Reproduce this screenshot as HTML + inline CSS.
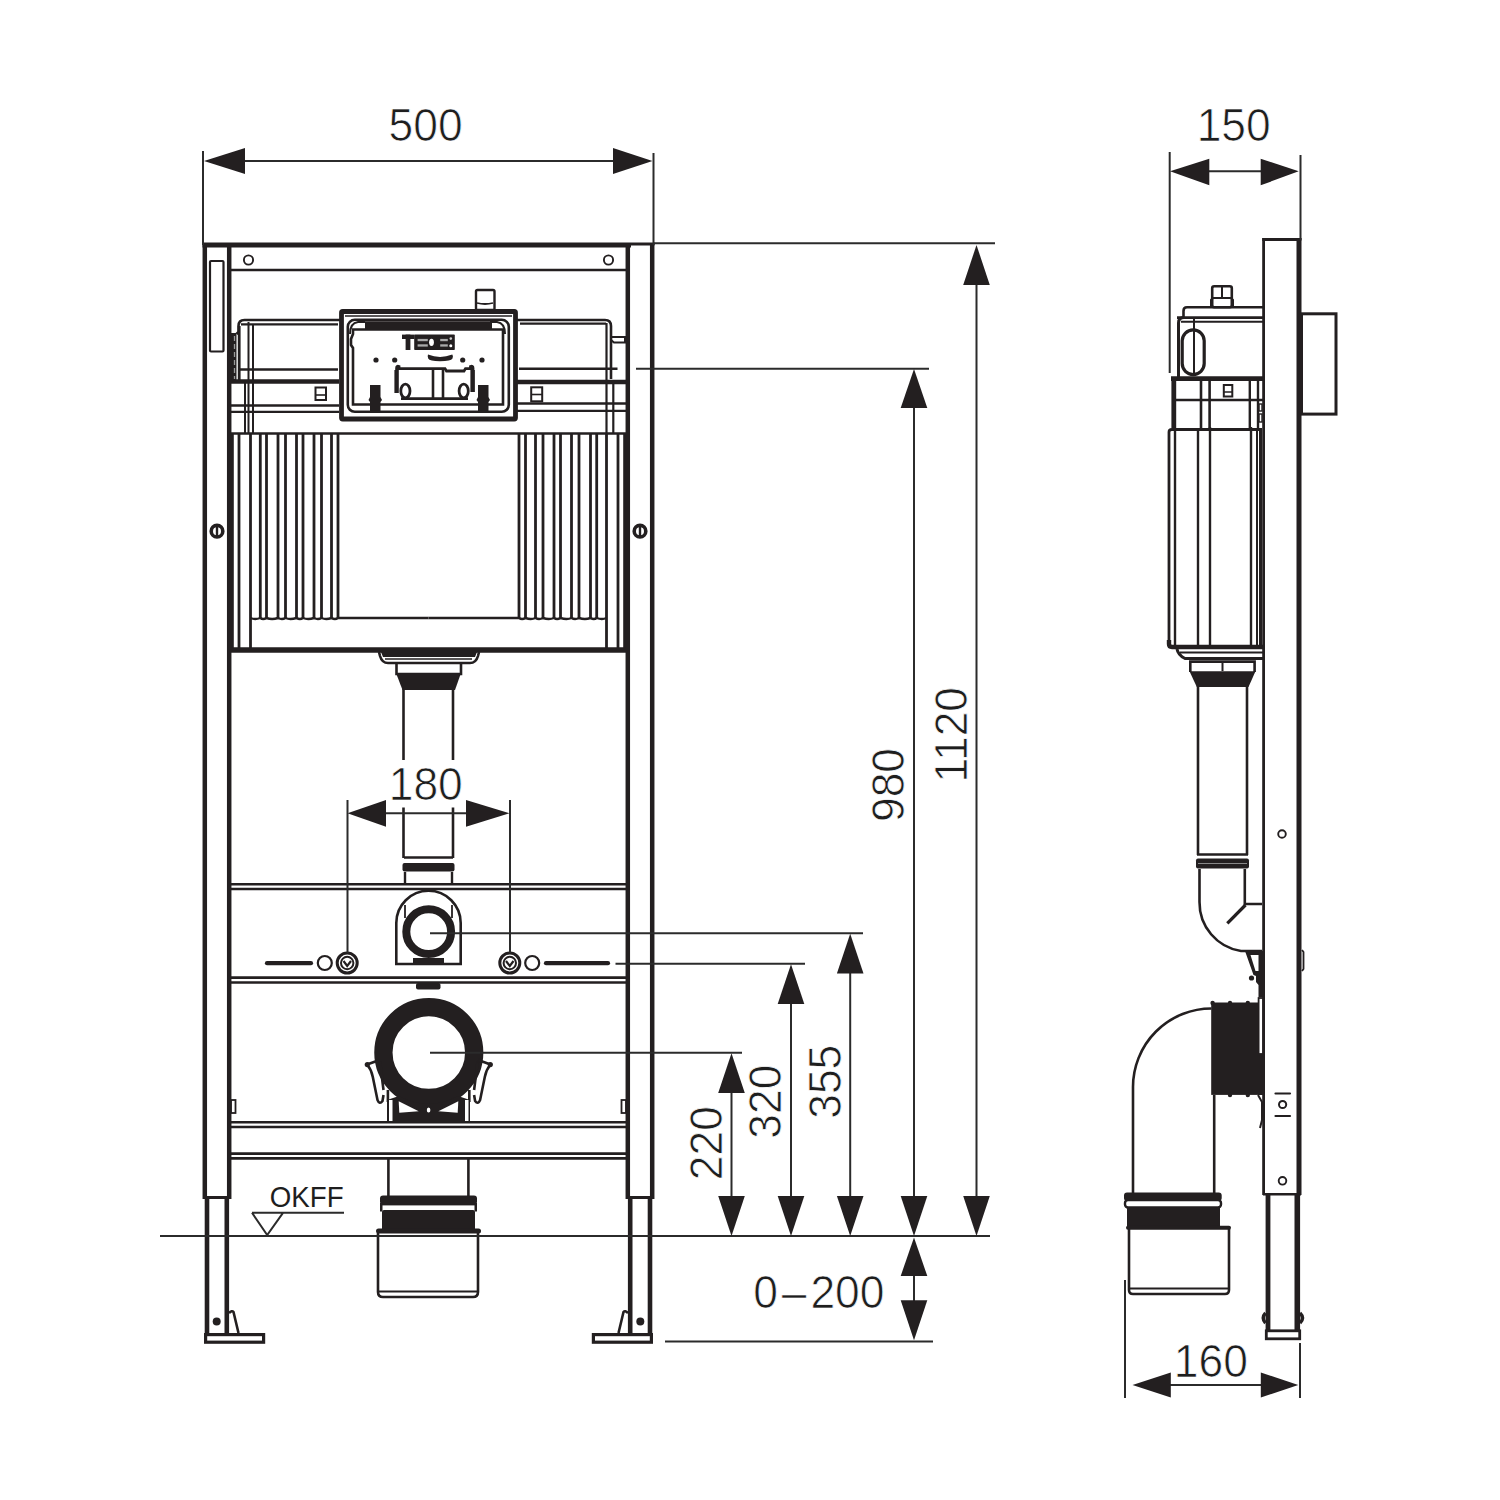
<!DOCTYPE html>
<html><head><meta charset="utf-8"><style>
html,body{margin:0;padding:0;background:#fff;width:1500px;height:1500px;overflow:hidden}
svg{display:block}
text{font-family:"Liberation Sans",sans-serif;fill:#1e1e1e}
.dt{stroke:#fff;stroke-width:0.75px;paint-order:fill stroke}
</style></head><body>
<svg width="1500" height="1500" viewBox="0 0 1500 1500">
<rect width="1500" height="1500" fill="#fff"/>
<defs>
<!-- left half of frame, mirrored around x=428.5 -->
<g id="halfL" fill="none" stroke="#231f20">
  <!-- outer post -->
  <line x1="204.8" y1="243" x2="204.8" y2="1199" stroke-width="4.5"/>
  <!-- inner post -->
  <line x1="229.2" y1="245" x2="229.2" y2="1199" stroke-width="4.5"/>
  <line x1="203" y1="1197.5" x2="231" y2="1197.5" stroke-width="3"/>
  <!-- top bar -->
  <circle cx="248.5" cy="260" r="4.6" stroke-width="1.9"/>
  <!-- bolts on post -->
  <circle cx="217" cy="531.2" r="5.8" stroke-width="3.6"/>
  <line x1="217" y1="526" x2="217" y2="536" stroke-width="2.4"/>
  <!-- legs -->
  <line x1="207" y1="1198" x2="207" y2="1334" stroke-width="4.6"/>
  <line x1="226.8" y1="1198" x2="226.8" y2="1334" stroke-width="4.6"/>
  <rect x="205.6" y="1334.6" width="58" height="7.6" stroke-width="3.2"/>
  <circle cx="216.7" cy="1321.5" r="4" fill="#231f20" stroke="none"/>
  <path d="M229 1313 Q232 1310 233.5 1312 L238.5 1333" stroke-width="2.6"/>
  <!-- ribs -->
  <line x1="232.4" y1="434" x2="232.4" y2="649" stroke-width="2.8"/>
  <line x1="239" y1="434" x2="239" y2="649" stroke-width="2.8"/>
  <line x1="250.5" y1="434" x2="250.5" y2="649" stroke-width="2.8"/>
  <line x1="260.3" y1="434" x2="260.3" y2="618" stroke-width="2.8"/>
  <line x1="266.5" y1="434" x2="266.5" y2="618" stroke-width="2.8"/>
  <line x1="278" y1="434" x2="278" y2="618" stroke-width="2.8"/>
  <line x1="285.5" y1="434" x2="285.5" y2="618" stroke-width="2.8"/>
  <line x1="296.5" y1="434" x2="296.5" y2="618" stroke-width="2.8"/>
  <line x1="303" y1="434" x2="303" y2="618" stroke-width="2.8"/>
  <line x1="314" y1="434" x2="314" y2="618" stroke-width="2.8"/>
  <line x1="321.5" y1="434" x2="321.5" y2="618" stroke-width="2.8"/>
  <line x1="331.5" y1="434" x2="331.5" y2="618" stroke-width="2.8"/>
  <line x1="338" y1="434" x2="338" y2="618" stroke-width="2.8"/>
  <path d="M250.5 618 Q255 620 260.3 618 Q263 620 266.5 618 Q272 620 278 618 Q282 620 285.5 618 Q290 620 296.5 618 Q300 620 303 618 Q308 620 314 618 Q318 620 321.5 618 Q326 620 331.5 618 Q335 620 338 618 L428.5 618" stroke-width="2.4"/>
  <!-- bars -->
  <!-- small squares on inner post near bars -->
  <rect x="231" y="1100" width="4.5" height="13" stroke-width="1.8"/>
  <!-- slot + circles row -->
  <circle cx="324.8" cy="963" r="7" stroke-width="2.2"/>
  <circle cx="347.2" cy="963" r="10" stroke-width="3"/>
  <circle cx="347.2" cy="963" r="6.2" stroke-width="2"/>
  <path d="M343.5 961 L347.2 966 L351 961" stroke-width="2.2"/>
</g>
</defs>
<use href="#halfL"/>
<use href="#halfL" transform="matrix(-1 0 0 1 857 0)"/>

<rect x="210" y="261" width="13.5" height="90.5" fill="none" stroke="#231f20" stroke-width="2.2" rx="1"/>
<g fill="none" stroke="#231f20">
  <!-- cistern left block -->
  <path d="M231 333 L236.5 333 L236.5 381 L231 381" fill="#231f20" stroke="none"/>
  <line x1="234.5" y1="336" x2="234.5" y2="379" stroke="#999" stroke-width="1.3" stroke-dasharray="5 3"/>

  <path d="M236.5 334 L238.5 332 L238.5 326 Q238.5 320 244.5 320 L341 320" stroke-width="2.6"/>
  <line x1="241" y1="324.3" x2="338" y2="324.3" stroke-width="2.2"/>
  <line x1="239.2" y1="326" x2="239.2" y2="382" stroke-width="2.8"/>
  <line x1="248.5" y1="322" x2="248.5" y2="433" stroke-width="2"/>
  <line x1="253" y1="324" x2="253" y2="433" stroke-width="2"/>
  <line x1="245" y1="382" x2="245" y2="433" stroke-width="2"/>
  <line x1="240" y1="369.5" x2="338" y2="369.5" stroke-width="2.6"/>
  <line x1="231" y1="381.5" x2="339" y2="381.5" stroke-width="4.6"/>
  <rect x="315.5" y="387.5" width="10.5" height="12.5" stroke-width="2"/>
  <line x1="316" y1="395" x2="326" y2="395" stroke-width="1.6"/>
  <line x1="231" y1="405.5" x2="339" y2="405.5" stroke-width="2.6"/>
  <line x1="231" y1="411.8" x2="339" y2="411.8" stroke-width="2.2"/>
</g>
<g fill="none" stroke="#231f20">
  <path d="M516 320 L605 320 Q611 320 611 326 L611 379" stroke-width="2.6"/>
  <line x1="520" y1="323.6" x2="606" y2="323.6" stroke-width="2.2"/>
  <line x1="606.5" y1="323" x2="606.5" y2="433" stroke-width="2.2"/>
  <path d="M611 337 L625 337 L625 342.5 L614 342.5 L611 340" stroke-width="2"/>
  <line x1="519" y1="368.7" x2="617.5" y2="368.7" stroke-width="2.6"/>
  <line x1="517" y1="382" x2="627" y2="382" stroke-width="4.6"/>
  <rect x="531.2" y="387.3" width="11" height="14" stroke-width="2"/>
  <line x1="531.5" y1="394.5" x2="542" y2="394.5" stroke-width="1.6"/>
  <line x1="613.3" y1="382" x2="613.3" y2="433" stroke-width="2.2"/>
  <line x1="517" y1="403.5" x2="627" y2="403.5" stroke-width="2.6"/>
  <line x1="517" y1="410.8" x2="627" y2="410.8" stroke-width="2.2"/>
</g>
<g fill="none" stroke="#231f20">
  <line x1="231" y1="270" x2="626" y2="270" stroke-width="2.6"/>
  <line x1="231" y1="433.5" x2="626" y2="433.5" stroke-width="2.6"/>
  <line x1="231" y1="650" x2="626" y2="650" stroke-width="5.5"/>
  <line x1="231" y1="884.3" x2="626" y2="884.3" stroke-width="2.6"/>
  <line x1="231" y1="889" x2="626" y2="889" stroke-width="2.6"/>
  <line x1="231" y1="977.6" x2="626" y2="977.6" stroke-width="2.6"/>
  <line x1="231" y1="982.5" x2="626" y2="982.5" stroke-width="2.6"/>
  <line x1="231" y1="1122.2" x2="626" y2="1122.2" stroke-width="2.6"/>
  <line x1="231" y1="1127" x2="626" y2="1127" stroke-width="2.6"/>
  <line x1="231" y1="1153.6" x2="626" y2="1153.6" stroke-width="2.6"/>
  <line x1="231" y1="1158.4" x2="626" y2="1158.4" stroke-width="2.6"/>
</g>
<g stroke="#231f20" stroke-width="4.2" stroke-linecap="round">
  <line x1="267" y1="963.2" x2="311" y2="963.2"/>
  <line x1="546" y1="963.2" x2="608" y2="963.2"/>
</g>
<!-- top frame line -->
<line x1="202.5" y1="245" x2="631" y2="245" stroke="#231f20" stroke-width="5"/>
<line x1="631" y1="244" x2="654.5" y2="244" stroke="#231f20" stroke-width="3"/>


<!-- ===== center parts left view ===== -->
<g fill="none" stroke="#231f20">
  <!-- knob -->
  <rect x="476" y="290" width="18.5" height="20" stroke-width="2.4" rx="1.5"/>
  <path d="M477 303 Q485 305 493 303" stroke-width="1.8"/>
  <!-- panel -->
  <rect x="341.5" y="311.5" width="174" height="107.5" rx="1.2" stroke-width="4.8"/>
  <line x1="345" y1="316" x2="512" y2="316" stroke-width="1.6"/>
  <rect x="347.8" y="319.8" width="161" height="92" rx="7" stroke-width="2.6"/>
  <path d="M353 334 L353 329.5 L503 329.5 L503 404.5 L353 404.5 L353 348 L351 345 L351 339 Z" stroke-width="2.6"/>
  <path d="M350 334 Q350 323 358 322 L365 322" stroke-width="2"/>
  <path d="M505 334 Q505 323 497 322 L490 322" stroke-width="2"/>
  <!-- flush mechanism -->
  <path d="M396.6 393 L396.6 368 Q396.6 365.5 399 366.5 L399 368.6 L445 368.6 L446.5 371 L464 371 L465.5 368.6 L470.5 368.6 L470.5 366.5 Q473 365.5 473 368 L473 392" stroke-width="2.8"/>
  <line x1="396.6" y1="370" x2="396.6" y2="393" stroke-width="4.4"/>
  <line x1="472.6" y1="370" x2="472.6" y2="392" stroke-width="4.4"/>
  <line x1="401" y1="398.6" x2="468" y2="398.6" stroke-width="2.8"/>
  <line x1="433" y1="369" x2="433" y2="398" stroke-width="2.6"/>
  <line x1="443" y1="369" x2="443" y2="398" stroke-width="2.6"/>
  <ellipse cx="405.4" cy="391" rx="4.6" ry="6.9" stroke-width="2.8"/>
  <ellipse cx="463.7" cy="391" rx="4.6" ry="6.9" stroke-width="2.8"/>
  <path d="M428 354.6 Q440 359.5 452.3 354.6 Q453.5 356 452.5 358.5 Q451 361.3 440 361.3 Q429.5 361.3 428.2 358.5 Q427.3 356 428 354.6 Z" fill="#231f20" stroke="none"/>
</g>
<g fill="#231f20">
  <rect x="365" y="321.2" width="127" height="7.8"/>
  <circle cx="376" cy="360" r="2.6"/>
  <circle cx="394.7" cy="360" r="2.6"/>
  <circle cx="462.7" cy="360" r="2.6"/>
  <circle cx="482" cy="360" r="2.6"/>
  <path d="M370 385 L380.5 385 L380.5 397 L382 400 L380.5 402 L380.5 412 L370 412 L370 402 L368.5 400 L370 397 Z"/>
  <path d="M478 385 L488.5 385 L488.5 397 L490 400 L488.5 402 L488.5 412 L478 412 L478 402 L476.5 400 L478 397 Z"/>
  <rect x="402" y="334.6" width="12.4" height="4.4"/>
  <rect x="405.6" y="334.6" width="4.8" height="15.4"/>
  <rect x="414.2" y="334.6" width="40.6" height="15.4" rx="0.8"/>
  <rect x="417.6" y="338.9" width="10.2" height="2.3" fill="#aaa"/>
  <rect x="417.6" y="344.3" width="10.2" height="2.3" fill="#aaa"/>
  <rect x="440.2" y="338.9" width="7.6" height="2.3" fill="#aaa"/>
  <rect x="440.2" y="344.3" width="7.6" height="2.3" fill="#aaa"/>
  <ellipse cx="431.5" cy="342.3" rx="2.4" ry="3.6" fill="#fff"/>
  <circle cx="450.8" cy="338.6" r="1.3" fill="#ccc"/>
  <circle cx="450.8" cy="345.8" r="1.5" fill="#fff"/>
</g>
<g fill="none" stroke="#231f20">
  <!-- flush pipe top -->
  <path d="M379 652 L380 656 Q382 663 388 663 L470 663 Q476 663 478 656 L479 652" stroke-width="2.6"/>
  <line x1="385" y1="659" x2="472" y2="659" stroke-width="1.6"/>
  <path d="M396.5 664 L396.5 674 L461 674 L461 664" stroke-width="2.6"/>
</g>
<g fill="#231f20">
  <path d="M396 673 L461 673 L455 690 L402.5 690 Z"/>
  <path d="M381 652 L477 652 L475 657 L383 657 Z"/>
</g>
<g fill="none" stroke="#231f20">
  <line x1="403.5" y1="689" x2="403.5" y2="760" stroke-width="2.6"/>
  <line x1="453" y1="689" x2="453" y2="760" stroke-width="2.6"/>
  <line x1="403.5" y1="807.5" x2="403.5" y2="858" stroke-width="2.6"/>
  <line x1="453" y1="807.5" x2="453" y2="858" stroke-width="2.6"/>
  <line x1="404" y1="857.5" x2="453" y2="857.5" stroke-width="2.6"/>
  <line x1="405" y1="872" x2="405" y2="884" stroke-width="2.4"/>
  <line x1="452" y1="872" x2="452" y2="884" stroke-width="2.4"/>
</g>
<g fill="#231f20">
  <rect x="402.5" y="863" width="52" height="8.5" rx="2"/>
</g>
<!-- 180 dim -->
<g stroke="#2b2b2b" stroke-width="2" fill="none">
  <line x1="347.5" y1="800" x2="347.5" y2="953"/>
  <line x1="510" y1="800" x2="510" y2="953"/>
  <line x1="380" y1="813.3" x2="470" y2="813.3"/>
</g>
<g fill="#231f20">
  <path d="M347.5 813.3 L386 800 L386 826.7 Z"/>
  <path d="M509.5 813.3 L466 800 L466 826.7 Z"/>
  <text class="dt" transform="translate(425.75 800.3) scale(0.965 1)" font-size="46" text-anchor="middle">180</text>
</g>
<!-- upper pipe connection -->
<g fill="none" stroke="#231f20">
  <path d="M396.3 964 L396.3 923 A32.2 32.2 0 0 1 460.7 923 L460.7 964 Z" stroke-width="2.6"/>
  <circle cx="428.7" cy="931.7" r="22.4" stroke-width="8"/>
  <line x1="405" y1="905" x2="405" y2="918" stroke-width="1.8"/>
  <line x1="452" y1="905" x2="452" y2="918" stroke-width="1.8"/>
</g>
<g fill="#231f20">
  <rect x="413" y="958" width="31" height="6"/>
  <rect x="416" y="983" width="24.5" height="6.5" rx="2"/>
</g>
<!-- big ring -->
<g fill="none" stroke="#231f20">
  <circle cx="428.8" cy="1052.6" r="45.4" stroke-width="18.3"/>
  <g id="clawL">
  <path d="M367 1064.5 L379.5 1060 M367.5 1065 Q371.5 1070 372.8 1077 L377.5 1100 Q379.5 1105 382.5 1101 L383.5 1095 M380 1062 L383.5 1090" stroke-width="2.6"/>
  <circle cx="367.3" cy="1064.6" r="2.6" fill="#231f20" stroke="none"/>
  </g>
  <use href="#clawL" transform="matrix(-1 0 0 1 857.6 0)"/>
</g>
<g fill="#231f20">
  <path d="M387 1100 L399 1096 Q428 1112 458 1096 L470 1100 L470 1122 L387 1122 Z"/>
  <rect x="386.6" y="1090" width="2.6" height="12"/>
  <rect x="468" y="1090" width="2.6" height="12"/>
</g>
<g fill="#fff">
  <path d="M398.7 1101.3 L418.7 1111.3 L399.3 1112.7 Z"/>
  <path d="M458.3 1101.3 L438.3 1111.3 L457.7 1112.7 Z"/>
  <rect x="389" y="1100" width="3.5" height="21"/>
  <rect x="465" y="1100" width="3.5" height="21"/>
  <ellipse cx="428.6" cy="1110" rx="1.8" ry="2.6"/>
</g>
<!-- drain -->
<g fill="none" stroke="#231f20">
  <line x1="388.4" y1="1158" x2="388.4" y2="1197" stroke-width="2.6"/>
  <line x1="468.4" y1="1158" x2="468.4" y2="1197" stroke-width="2.6"/>
  <path d="M378 1233 L378 1292 Q378 1297 383 1297 L473 1297 Q478 1297 478 1292 L478 1233" stroke-width="2.6"/>
  <line x1="379" y1="1291.5" x2="477" y2="1291.5" stroke-width="2.2"/>
</g>
<g fill="#231f20">
  <rect x="380" y="1195.5" width="97" height="9" rx="3"/>
  <rect x="380" y="1203" width="97" height="2.4"/>
  <rect x="382" y="1210" width="93" height="22" rx="2"/>
  <rect x="376" y="1228.5" width="105" height="5" rx="2.5"/>
  <rect x="380" y="1203.5" width="2.5" height="8"/>
  <rect x="474.5" y="1203.5" width="2.5" height="8"/>
</g>
<!-- OKFF -->
<g>
  <text x="269.8" y="1207" font-size="29.6" textLength="73.8" lengthAdjust="spacingAndGlyphs">OKFF</text>
  <path d="M252 1212.8 L344 1212.8 M252 1212.8 L267.2 1235 L283 1212.8" fill="none" stroke="#2b2b2b" stroke-width="2"/>
</g>
<!-- ===== dimensions left view ===== -->
<g stroke="#2b2b2b" stroke-width="2" fill="none">
  <line x1="203" y1="151" x2="203" y2="245"/>
  <line x1="653.5" y1="153" x2="653.5" y2="245"/>
  <line x1="240" y1="161" x2="618" y2="161"/>
  <!-- top ext line to right -->
  <line x1="654" y1="243.3" x2="995" y2="243.3"/>
  <line x1="636" y1="368.7" x2="929" y2="368.7"/>
  <!-- 1120 -->
  <line x1="976.5" y1="270" x2="976.5" y2="1210"/>
  <!-- 980 -->
  <line x1="914" y1="395" x2="914" y2="1210"/>
  <!-- 355 -->
  <line x1="430" y1="933.3" x2="863" y2="933.3"/>
  <line x1="850.2" y1="960" x2="850.2" y2="1210"/>
  <!-- 320 -->
  <line x1="615.5" y1="963.8" x2="805" y2="963.8"/>
  <line x1="791" y1="990" x2="791" y2="1210"/>
  <!-- 220 -->
  <line x1="430" y1="1052.8" x2="742" y2="1052.8"/>
  <line x1="731.5" y1="1080" x2="731.5" y2="1210"/>
  <!-- floor -->
  <line x1="160" y1="1236" x2="990" y2="1236"/>
  <!-- 0-200 -->
  <line x1="914" y1="1260" x2="914" y2="1320"/>
  <line x1="665" y1="1341.5" x2="933" y2="1341.5"/>
</g>
<g fill="#231f20" stroke="none">
  <!-- 500 arrows -->
  <path d="M204 161 L245 148 L245 174 Z"/>
  <path d="M652.5 161 L613 148 L613 174 Z"/>
  <!-- 1120 arrows -->
  <path d="M976.5 245 L963.2 285 L989.8 285 Z"/>
  <path d="M976.5 1236 L963.2 1196 L989.8 1196 Z"/>
  <!-- 980 -->
  <path d="M914 369 L900.7 408 L927.3 408 Z"/>
  <path d="M914 1236 L900.7 1196 L927.3 1196 Z"/>
  <!-- 355 -->
  <path d="M850.2 933.8 L836.9 973.6 L863.5 973.6 Z"/>
  <path d="M850.2 1236 L836.9 1196 L863.5 1196 Z"/>
  <!-- 320 -->
  <path d="M791 964.2 L777.7 1004 L804.3 1004 Z"/>
  <path d="M791 1236 L777.7 1196 L804.3 1196 Z"/>
  <!-- 220 -->
  <path d="M731.5 1053.3 L718.2 1093 L744.8 1093 Z"/>
  <path d="M731.5 1236 L718.2 1196 L744.8 1196 Z"/>
  <!-- 0-200 -->
  <path d="M914 1237.4 L900.7 1276 L927.3 1276 Z"/>
  <path d="M914 1340.2 L900.7 1300.3 L927.3 1300.3 Z"/>
</g>
<g font-size="46" class="dt" text-anchor="middle">
  <text transform="translate(425.6 140.6) scale(0.965 1)">500</text>
  <text transform="translate(904.3 785) rotate(-90) scale(0.965 1)">980</text>
  <text transform="translate(967 734.7) rotate(-90) scale(0.965 1)">1120</text>
  <text transform="translate(721.6 1143.1) rotate(-90) scale(0.965 1)">220</text>
  <text transform="translate(781.4 1101.6) rotate(-90) scale(0.965 1)">320</text>
  <text transform="translate(841.2 1081.75) rotate(-90) scale(0.965 1)">355</text>
  <text transform="translate(818.85 1308.3) scale(0.965 1)">0<tspan dx="4">–</tspan><tspan dx="4">200</tspan></text>
</g>


<!-- ===== right view body ===== -->
<g fill="none" stroke="#231f20">
  <!-- frame -->
  <line x1="1263.6" y1="238" x2="1263.6" y2="1195" stroke-width="2.8"/>
  <line x1="1299" y1="238" x2="1299" y2="1195" stroke-width="5"/>
  <line x1="1262.3" y1="239.5" x2="1301.3" y2="239.5" stroke-width="2.8"/>
  <line x1="1263" y1="1194.3" x2="1301" y2="1194.3" stroke-width="2.6"/>
  <rect x="1301.5" y="313.8" width="34.5" height="100.3" stroke-width="3"/>
  <circle cx="1282" cy="834" r="3.8" stroke-width="1.9"/>
  <circle cx="1282.5" cy="1180.8" r="3.8" stroke-width="1.9"/>
  <path d="M1275.5 1093.5 L1290 1093.5 M1275.5 1116 L1290 1116" stroke-width="2.2" stroke-linecap="round"/>
  <circle cx="1282.6" cy="1104.5" r="3.6" stroke-width="2"/>
  <path d="M1302 950 L1303.5 952 L1303.5 969 L1302 971" stroke-width="1.8"/>
  <!-- leg -->
  <line x1="1268" y1="1194" x2="1268" y2="1331" stroke-width="4.8"/>
  <line x1="1297.3" y1="1194" x2="1297.3" y2="1331" stroke-width="5.6"/>
  <rect x="1266.3" y="1330.8" width="33.4" height="8" stroke-width="2.8"/>
  <path d="M1265.5 1313 Q1261 1318 1265.5 1323 M1300 1313 Q1305 1318 1300 1323" stroke-width="3.4"/>
  <!-- cistern top -->
  <rect x="1212.2" y="286.3" width="19.6" height="21" rx="2" stroke-width="2.6"/>
  <line x1="1222" y1="287" x2="1222" y2="299" stroke-width="2"/>
  <path d="M1211 307 L1211 300 L1213 298 L1231 298 L1233 300 L1233 307" stroke-width="2"/>
  <path d="M1264 307.3 L1187 307.3 Q1183.5 307.3 1183.5 311 L1183.5 317" stroke-width="2.6"/>
  <line x1="1177" y1="317.6" x2="1264" y2="317.6" stroke-width="2.6"/>
  <line x1="1181" y1="321.8" x2="1264" y2="321.8" stroke-width="2"/>
  <path d="M1178.5 377 L1178.5 323 Q1178.5 317.6 1184 317.6" stroke-width="3"/>
  <rect x="1182.2" y="329.8" width="22" height="44.8" rx="11" stroke-width="3.2"/>
  <line x1="1194" y1="318" x2="1194" y2="374" stroke-width="2"/>
  <line x1="1171" y1="378.6" x2="1264" y2="378.6" stroke-width="4.6"/>
  <line x1="1173.8" y1="378" x2="1173.8" y2="428" stroke-width="4.8"/>
  <line x1="1175" y1="400" x2="1264" y2="400" stroke-width="2.6"/>
  <line x1="1201" y1="378" x2="1201" y2="429" stroke-width="2.6"/>
  <line x1="1209.6" y1="378" x2="1209.6" y2="429" stroke-width="2.6"/>
  <line x1="1249.8" y1="378" x2="1249.8" y2="429" stroke-width="2.4"/>
  <line x1="1258" y1="378" x2="1258" y2="429" stroke-width="2.4"/>
  <rect x="1223.8" y="385" width="8.5" height="11.5" stroke-width="2"/>
  <line x1="1224" y1="392" x2="1232" y2="392" stroke-width="1.5"/>
  <!-- cistern body -->
  <path d="M1169 645 L1169 432 Q1169 429.5 1172 429.5 L1262 429.5" stroke-width="2.8"/>
  <line x1="1175" y1="430" x2="1175" y2="645" stroke-width="2.4"/>
  <line x1="1198" y1="430" x2="1198" y2="645" stroke-width="2.4"/>
  <line x1="1210" y1="427" x2="1210" y2="645" stroke-width="2.4"/>
  
  <line x1="1251" y1="427" x2="1251" y2="645" stroke-width="2.4"/>
  <line x1="1257" y1="430" x2="1257" y2="645" stroke-width="2"/>
  <line x1="1260.5" y1="430" x2="1260.5" y2="645" stroke-width="3"/>
  <rect x="1259" y="404" width="3" height="7" stroke-width="1.4"/>
  <rect x="1259" y="414" width="3" height="8" stroke-width="1.4"/>
  <path d="M1169 640 L1169 644 Q1169 647 1172 647 L1264 647" stroke-width="4.4"/>
  <path d="M1177 649 Q1178 655 1185 658.5 L1263 658.5" stroke-width="3"/>
  <line x1="1180" y1="652.6" x2="1264" y2="652.6" stroke-width="2"/>
  <path d="M1190.3 672 L1190.3 661.6 L1254.6 661.6 L1254.6 672" stroke-width="2.6"/>
  <line x1="1222.5" y1="661" x2="1222.5" y2="671" stroke-width="2"/>
  <!-- pipe -->
  <line x1="1198" y1="686" x2="1198" y2="855" stroke-width="2.6"/>
  <line x1="1247" y1="686" x2="1247" y2="855" stroke-width="2.6"/>
  <line x1="1197" y1="854.5" x2="1248" y2="854.5" stroke-width="2.4"/>
  <!-- elbow -->
  <path d="M1199.5 869 L1199.5 902 A49 49 0 0 0 1241 951 L1262 951" stroke-width="2.6"/>
  <path d="M1244.8 869 L1244.8 904 L1262 904" stroke-width="2.6"/>
  <line x1="1245.5" y1="905" x2="1227.3" y2="923.3" stroke-width="3.2"/>

  <!-- lower elbow -->
  <path d="M1211.5 1008.5 A78.5 78.5 0 0 0 1133 1087 L1133 1193" stroke-width="2.6"/>
  <line x1="1214.2" y1="1095" x2="1214.2" y2="1193" stroke-width="2.6"/>
  <rect x="1258.6" y="998" width="4.6" height="56" stroke-width="1.8"/>
  <path d="M1258 1095 L1262 1102 L1262 1120 L1260 1128" stroke-width="2"/>
  <!-- drain lower -->
  <path d="M1129 1229 L1129 1290 Q1129 1294 1133 1294 L1225 1294 Q1229 1294 1229 1290 L1229 1229" stroke-width="2.6"/>
  <line x1="1130" y1="1288.5" x2="1228" y2="1288.5" stroke-width="2.2"/>
  <rect x="1125" y="1200" width="96" height="7.5" rx="3" stroke-width="2.4"/>
</g>
<g fill="#231f20">
  <path d="M1189.5 671.3 L1255.5 671.3 L1248.5 687 L1196.8 687 Z"/>
  <rect x="1196" y="858.6" width="53" height="10" rx="2"/>
  <rect x="1198" y="863" width="49" height="1" fill="#888"/>
  <rect x="1211.2" y="1002.5" width="47" height="92.4"/>
  <circle cx="1212.6" cy="1003" r="2.2"/><circle cx="1230" cy="1003" r="2.2"/><circle cx="1247.8" cy="1003" r="2.2"/>
  <circle cx="1230" cy="1095" r="2.2"/><circle cx="1247.8" cy="1095" r="2.2"/>
  <circle cx="1251.5" cy="978" r="2.6"/>
  <path d="M1245 951 L1263 951 L1263 997 L1258.5 997 L1258.5 985 L1256 982 L1256 976 L1253.5 975 Z"/>
  <path d="M1250.5 955 L1258.5 955 L1258.5 971 L1255.5 971 Z" fill="#fff"/>
  <rect x="1258" y="1054" width="5" height="41"/>
  <rect x="1124" y="1192.5" width="97.7" height="8.5" rx="3"/>
  <rect x="1127" y="1207.5" width="93" height="21"/>
  <rect x="1126" y="1225.8" width="105" height="4" rx="2"/>
</g>
<!-- ===== right view ===== -->
<g stroke="#2b2b2b" stroke-width="2" fill="none">
  <line x1="1169.7" y1="152" x2="1169.7" y2="373"/>
  <line x1="1300.5" y1="155" x2="1300.5" y2="240"/>
  <line x1="1200" y1="171.3" x2="1270" y2="171.3"/>
  <line x1="1125" y1="1280" x2="1125" y2="1398"/>
  <line x1="1300" y1="1343" x2="1300" y2="1398"/>
  <line x1="1160" y1="1385" x2="1270" y2="1385"/>
</g>
<g fill="#231f20">
  <path d="M1170 171.3 L1209.3 158.7 L1209.3 185.3 Z"/>
  <path d="M1298.7 171.3 L1260.7 158.7 L1260.7 185.3 Z"/>
  <path d="M1132.5 1385 L1170.8 1372.5 L1170.8 1397.5 Z"/>
  <path d="M1298.3 1385 L1260.8 1372.5 L1260.8 1397.5 Z"/>
</g>
<g font-size="46" class="dt" text-anchor="middle">
  <text transform="translate(1233.7 140.9) scale(0.965 1)">150</text>
  <text transform="translate(1210.85 1376.9) scale(0.965 1)">160</text>
</g>
</svg>
</body></html>
